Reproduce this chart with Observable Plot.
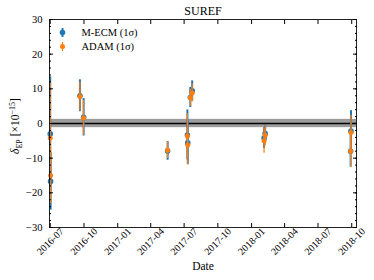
<!DOCTYPE html>
<html><head><meta charset="utf-8">
<script src="https://cdn.jsdelivr.net/npm/d3@7"></script>
<script src="https://cdn.jsdelivr.net/npm/@observablehq/plot@0.6"></script>
<style>body{margin:0;background:#fff}</style>
</head><body><div id="chart"></div>
<script>
const title = "SUREF";
const xLabel = "Date";
const seriesNames = ["M-ECM (1σ)", "ADAM (1σ)"];
const dates = ["2016-07-01","2016-07-02","2016-09-20","2016-09-30","2017-05-17","2017-07-10","2017-07-11","2017-07-18","2017-07-23","2018-02-04","2018-02-07","2018-09-28","2018-09-29"];
const mecm    = [-3.0, -16.7, 8.0, 1.8, -7.9, -3.3, -5.6, 7.5, 9.4, -4.2, -2.9, -8.0, -2.2];
const mecmErr = [16.5,  8.3, 4.6, 5.4,  2.7,  7.2,  6.2, 2.9, 2.9,  3.0,  2.6,  4.6,  5.9];
const adam    = [-4.2, -15.0, 7.8, 1.6, -7.7, -3.6, -6.2, 7.4, 8.8, -5.0, -3.4, -8.0, -2.6];
const adamErr = [16.0,  8.0, 4.2, 5.0,  2.4,  6.5,  5.8, 2.5, 2.6,  3.6,  3.0,  4.7,  5.0];
const bandLo = -1.2, bandHi = 1.2, zeroLine = [0];
const yTicks = [-30,-20,-10,0,10,20,30];
const yMinor = d3.range(-30, 31, 2);
const xTickLabels = ["2016-07","2016-10","2017-01","2017-04","2017-07","2017-10","2018-01","2018-04","2018-07","2018-10"];
const xDomain = ["2016-06-29","2018-10-14"];

const blue = "#1f77b4", orange = "#ff7f0e";
const rows = dates.map((d,i)=>({date:new Date(d), m:mecm[i], me:mecmErr[i], a:adam[i], ae:adamErr[i]}));
const xTickDates = xTickLabels.map(s=>new Date(s+"-01"));
const vline = {draw(ctx){ctx.moveTo(0,-4.5);ctx.lineTo(0,4.5);}};

const chart = Plot.plot({
  width:374, height:280, marginLeft:49, marginRight:18, marginTop:19, marginBottom:53,
  style:{fontFamily:"'Liberation Serif', serif", fontSize:"10px", color:"#000", background:"#fff", overflow:"visible"},
  x:{type:"utc", domain:xDomain.map(d=>new Date(d)), label:null},
  y:{domain:[-30,30], label:null},
  marks:[
    Plot.rect([0], {y1:bandLo, y2:bandHi, fill:"#9d9d9d"}),
    Plot.ruleY(zeroLine, {stroke:"#000", strokeWidth:1.5}),
    Plot.ruleX(rows, {x:"date", y1:d=>d.m-d.me, y2:d=>d.m+d.me, stroke:blue, strokeWidth:2}),
    Plot.dot(rows, {x:"date", y:"m", r:2.8, fill:blue}),
    Plot.ruleX(rows, {x:"date", y1:d=>d.a-d.ae, y2:d=>d.a+d.ae, stroke:orange, strokeWidth:1.2}),
    Plot.dot(rows, {x:"date", y:"a", r:2.5, fill:orange}),
    Plot.frame({stroke:"#222"}),
    Plot.axisY(yTicks, {anchor:"left", tickSize:-4, tickPadding:11, fontSize:10.5}),
    Plot.axisY(yTicks, {anchor:"right", tickSize:-4, text:null}),
    Plot.axisY(yMinor, {anchor:"left", tickSize:-2, text:null}),
    Plot.axisY(yMinor, {anchor:"right", tickSize:-2, text:null}),
    Plot.axisX(xTickDates, {anchor:"bottom", tickSize:-4, text:null}),
    Plot.axisX(xTickDates, {anchor:"top", tickSize:-4, text:null}),
    Plot.text(xTickLabels, {x:s=>new Date(s+"-01"), text:s=>s, frameAnchor:"bottom", dy:14, rotate:-45, textAnchor:"middle", lineAnchor:"middle", fontSize:10}),
    Plot.text([xLabel], {text:d=>d, frameAnchor:"bottom", dy:39, lineAnchor:"middle", fontSize:11.5}),
    Plot.text([title], {text:d=>d, frameAnchor:"top", dy:-8, lineAnchor:"middle", fontSize:12}),
    // legend
    Plot.dot([0], {frameAnchor:"top-left", dx:13, dy:13, symbol:vline, stroke:blue, strokeWidth:2, r:3}),
    Plot.dot([0], {frameAnchor:"top-left", dx:13, dy:13, r:2.8, fill:blue}),
    Plot.dot([0], {frameAnchor:"top-left", dx:13, dy:27, symbol:vline, stroke:orange, strokeWidth:1.2, r:3}),
    Plot.dot([0], {frameAnchor:"top-left", dx:13, dy:27, r:2.5, fill:orange}),
    Plot.text([seriesNames[0]], {text:d=>d, frameAnchor:"top-left", dx:32, dy:13, textAnchor:"start", lineAnchor:"middle", fontSize:10.5}),
    Plot.text([seriesNames[1]], {text:d=>d, frameAnchor:"top-left", dx:32, dy:27, textAnchor:"start", lineAnchor:"middle", fontSize:10.5})
  ]
});
document.getElementById("chart").appendChild(chart);

// y-axis label with sub/superscripts
const svg = d3.select(chart);
const t = svg.append("text")
  .attr("transform","translate(19,126) rotate(-90)")
  .attr("text-anchor","middle")
  .attr("font-family","'Liberation Serif', serif")
  .attr("font-size", 11.5)
  .attr("fill","#000");
t.append("tspan").attr("font-style","italic").text("δ");
t.append("tspan").attr("font-size",8).attr("dy",2.5).text("EP");
t.append("tspan").attr("dy",-2.5).text(" [×10");
t.append("tspan").attr("font-size",8).attr("dy",-4.5).text("−15");
t.append("tspan").attr("dy",4.5).text("]");
</script></body></html>
